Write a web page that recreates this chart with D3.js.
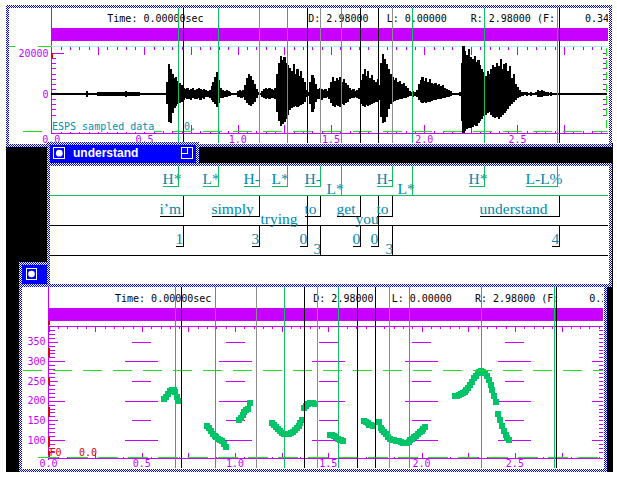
<!DOCTYPE html>
<html><head><meta charset="utf-8">
<script src="https://cdn.jsdelivr.net/npm/d3@7"></script>
<style>
html,body{margin:0;padding:0;background:#fff;overflow:hidden;}
svg{display:block;}
</style>
</head><body>
<svg id="c" width="617" height="477"></svg>
<script>
(function(){
// ---------------- DATA ----------------
const duration = 2.98;                 // seconds
const waveStart = 0.18, waveStep = 0.01; // sampled envelope (thousands of counts)
const waveMax = [
0.25,1.25,0.25,0.25,0.25,0.25,0.25,1,1,0.75,1,1,0.75,1,1,0.75,1,1,1,0.75,1,1,1.5,1,1,0.75,1,0.75,1,0.75,
0.25,0.25,0.25,0.25,0.25,0.25,0.25,0.25,0.25,0.25,0.25,0.25,
0.25,0.25,6,14.5,12,10,8,8.5,6.5,5.5,
4.5,3,2.5,3,2,2.5,3,2,2.5,3,
2.5,2,2.5,2,1.5,2,4,6,8.5,10.5,
7,3,2,1.5,2,1.5,1,0.5,0.5,0.5,
1.5,2,1.5,2,4.5,8,10,9,7,5,
2.5,1,0.5,1.5,2.5,3,2.5,3,2.5,2,
3,10,15,18.5,16.5,18,15,14,12.5,11,
14.5,10,12,9,11,8,6,2,1,6,
9.5,8,5,2.5,3,2.5,2,2.5,1.5,3,
6,8.5,6.5,8,7,8.5,6,7.5,5.5,4.5,
3,2,2.5,1.5,2,3,7,10,12,9,
11,8,9.5,7,6,7.5,4.5,15,19.5,17,
14.5,12,10,8.5,7,8,6,6.5,5,5.5,
4,3,1.5,1,1.5,1,2,5,7,8.5,
6.5,8,6,7.5,5.5,5,5.5,4.5,5,4,
4.5,3,2.5,2,1.5,0.5,0.5,0.5,0.5,1,
15,23.5,21,19,22,18,17,18.5,15.5,16.5,
14,12,10.5,9,11,10,12,14,13,15,
13.5,17,12,14.5,15,11,13.5,8,10,5,
3.5,2,1,1,1,1,0.5,1,0.5,0.5,
1,2,1.5,2,1.5,1,1,0.5,1,0.5,
0.5,0.5,0.25];
const waveMin = [
-0.25,-1.25,-0.25,-0.25,-0.25,-0.25,-0.25,-1,-1,-0.75,-1,-1,-0.75,-1,-1,-0.75,-1,-1,-1,-0.75,-1,-1,-1.5,-1,-1,-0.75,-1,-0.75,-1,-0.75,
-0.25,-0.25,-0.25,-0.25,-0.25,-0.25,-0.25,-0.25,-0.25,-0.25,-0.25,-0.25,
-0.25,-0.25,-5,-13.5,-14,-9.5,-7,-6,-5,-4.5,
-4,-3,-2,-2.5,-2.5,-3,-2,-2.5,-2.5,-2,
-3,-2,-2.5,-1.5,-1.5,-2,-3,-4,-5,-6.5,
-4.5,-2,-2,-1.5,-1.5,-1,-1,-0.5,-0.5,-0.5,
-1.5,-1.5,-2,-1.5,-3,-4.5,-5.5,-6,-5,-4,
-2,-0.5,-0.5,-1.5,-2,-2.5,-2,-2.5,-2,-2,
-2.5,-9,-13,-15.5,-14.5,-13.5,-12,-10,-8,-7,
-6.5,-6,-6.5,-6,-5.5,-5,-4,-1.5,-1,-5,
-9,-7.5,-4,-2.5,-2.5,-3,-2,-2,-1.5,-2.5,
-4.5,-6,-6.5,-5.5,-6,-6.5,-5,-5.5,-4.5,-4,
-2.5,-2,-2,-1.5,-2,-2.5,-5,-6,-6.5,-5.5,
-6,-5.5,-5,-4.5,-4,-4,-3,-11,-14,-13.5,
-11,-7.5,-5,-4,-3.5,-3,-3,-2.5,-2.5,-2,
-2,-1.5,-1,-1,-1.5,-1,-1.5,-3,-4,-4.5,
-4,-4.5,-4,-4,-3.5,-3,-3,-2.5,-2.5,-2.5,
-2,-2,-1.5,-1.5,-1,-0.5,-0.5,-0.5,-0.5,-1,
-13,-19,-18,-17,-16.5,-16.5,-16,-15,-15.5,-14,
-13,-12,-10.5,-10,-9.5,-9,-10,-11,-11.5,-11,
-12,-11,-10,-9.5,-8.5,-7.5,-6,-5,-4,-3,
-2,-1.5,-1,-1,-0.5,-1,-0.5,-1,-0.5,-0.5,
-0.5,-1.5,-1.5,-1.5,-1,-1,-1,-0.5,-1,-0.5,
-0.5,-0.5,-0.25];

const toneLabels  = ["H*","L*","H-","L*","H-","L*","H-","L*","H*","L-L%"];
const toneTimes   = [0.677,0.894,1.114,1.264,1.441,1.554,1.825,1.934,2.320,2.712];
const toneLowered = [0,0,0,0,0,1,0,1,0,0];
const wordLabels  = ["i\u2019m","simply","trying","to","get","you","to","understand"];
const wordTimes   = [0.708,1.114,1.370,1.441,1.656,1.752,1.825,2.723];
const wordLowered = [0,0,1,0,0,1,0,0];
const breakLabels = ["1","3","0","3","0","0","3","4"];
const breakTimes  = [0.708,1.114,1.370,1.441,1.656,1.752,1.825,2.723];
const breakLowered= [0,0,0,1,0,0,1,0];

const f0Step = 0.01;
const f0Starts = [0.62,0.85,1.02,1.20,1.37,1.51,1.69,1.77,1.78,2.18];
const f0Runs = [
 [205,210,218,225,227,227,222,210,199],
 [136,130,123,115,110,108,103,100,97,90,82],
 [150,156,163,170,176,179,194],
 [142,138,133,127,122,118,116,115,115,116,118,121,125,130,136,143,150],
 [182,187,192,194,195,194,191],
 [113,112,110,107,103,100,99,98],
 [149,146,143,139,137,135],
 [147],
 [130,125,120,115,108,103,100,99,98,97,97,96,93,92,93,96,99,103,107,111,116,120,124,128,132],
 [211,212,214,216,219,223,228,233,240,248,257,264,270,274,275,274,270,262,252,240,226,212,197,165,150,135,122,112,104,100]
];
const f0Cursor = 278, f0Floor = 57;
const timeLabels = [0,0.5,1.0,1.5,2.0,2.5];
const ampLabels = [0,20];            // thousands -> "0", "20000"
const f0Labels = [100,150,200,250,300,350];
const f0GridTimes = [0,0.5,1.0,1.5,2.0,2.5,3.0];
const f0GridHz = [100,150,200,250,300,350];
const ampRedMarks = [[17.5,20]];
const f0RedMarks = [[311,333],[240,257],[158,184],[82,107],[62,72]];

// ---------------- STYLE ----------------
const MAG="#c800ff", CYAN="#a8f0f0", TEAL="#0090b0", TIER="#0088aa", GREEN="#10c060",
      DASH="#20e020", GRAY="#8c8c8c", F0C="#00c468", RED="#e00000", BLUE="#0000ff";
const MONO="'DejaVu Sans Mono', monospace";
const LABEL_CHAR_W = 8; // label field width per character (xwaves layout)

const svg = d3.select("#c").attr("shape-rendering","crispEdges");
const defs = svg.append("defs");
const pat = defs.append("pattern").attr("id","chk").attr("width",2).attr("height",2).attr("patternUnits","userSpaceOnUse");
pat.append("rect").attr("width",2).attr("height",2).attr("fill","#fff");
pat.append("rect").attr("width",1).attr("height",1).attr("fill",BLUE);
pat.append("rect").attr("x",1).attr("y",1).attr("width",1).attr("height",1).attr("fill",BLUE);
function clip(id,x,y,w,h){defs.append("clipPath").attr("id",id).append("rect").attr("x",x).attr("y",y).attr("width",w).attr("height",h);}
clip("cTop",9,8,599,135); clip("cTopPlot",51,46,557,88);
clip("cMid",50,166,558,119); clip("cLow",23,287,580,181); clip("cLowPlot",48,327,555,132);

const xTop = d3.scaleLinear().domain([0,duration]).range([51.25,607.0]);
const xLow = d3.scaleLinear().domain([0,duration]).range([48.6,604.4]);
const yAmp = d3.scaleLinear().domain([0,20]).range([94,53]);
const yF0  = d3.scaleLinear().domain([100,350]).range([440,341.7]);

function frame(x0,y0,x1,y1,fill){
  svg.append("rect").attr("x",x0).attr("y",y0).attr("width",x1-x0).attr("height",y1-y0).attr("fill","url(#chk)");
  svg.append("rect").attr("x",x0+3).attr("y",y0+3).attr("width",x1-x0-6).attr("height",y1-y0-6).attr("fill",fill);
}
function hline(g,x1,x2,y,c,w,dash){const l=g.append("line").attr("x1",x1).attr("x2",x2).attr("y1",y).attr("y2",y).attr("stroke",c).attr("stroke-width",w||1); if(dash) l.attr("stroke-dasharray",dash); return l;}
function vline(g,x,y1,y2,c,w,dash){const l=g.append("line").attr("x1",x).attr("x2",x).attr("y1",y1).attr("y2",y2).attr("stroke",c).attr("stroke-width",w||1); if(dash) l.attr("stroke-dasharray",dash); return l;}
function txt(g,x,y,s,c,size,anchor,fam){return g.append("text").attr("x",x).attr("y",y).text(s).attr("fill",c)
  .attr("font-family",fam||MONO).attr("font-size",size||10).attr("text-anchor",anchor||"start");}
function axisTicks(g,axis,tr,color){
  const a=g.append("g").attr("transform",tr).call(axis);
  a.select(".domain").remove(); a.selectAll("line").attr("stroke",color); a.selectAll("text").remove();
  return a;
}
const minorT = d3.range(0,60).map(i=>+(i*0.05).toFixed(2));
const quarterT = d3.range(0,12).map(i=>i*0.25);

const bounds=[];
toneTimes.forEach(t=>bounds.push({t,c:wordTimes.includes(t)?GRAY:GREEN}));
wordTimes.forEach(t=>{if(!toneTimes.includes(t)) bounds.push({t,c:"#000"});});

// ---------------- SCREEN ----------------
svg.append("rect").attr("width",617).attr("height",477).attr("fill","#fff");
svg.append("rect").attr("x",6).attr("y",143).attr("width",607).attr("height",329).attr("fill","#000");

// ===== top window (waveform) =====
frame(6,5,612,147,"#fff");
const topG = svg.append("g").attr("clip-path","url(#cTop)");
txt(topG,107.3,21.5,"Time:  0.00000sec","#000");
txt(topG,308.3,21.5,"D: "+duration.toFixed(5),"#000");
txt(topG,386.7,21.5,"L:  0.00000","#000");
txt(topG,470.7,21.5,"R:  "+duration.toFixed(5)+" (F:","#000");
txt(topG,585,21.5,"0.34","#000");
topG.append("rect").attr("x",51).attr("y",28).attr("width",557).attr("height",13).attr("fill",MAG);
vline(topG,51.5,8,134,MAG);
hline(topG,9,51,46.5,DASH,1,"6,23,13");
hline(topG,51,608,46.5,CYAN);
axisTicks(topG,d3.axisBottom(xTop).tickValues(minorT).tickSize(3).tickFormat(""),"translate(0,46.5)",MAG);
axisTicks(topG,d3.axisBottom(xTop).tickValues(quarterT).tickSize(8).tickFormat(""),"translate(0,46.5)",MAG);
hline(topG,51,608,133.5,MAG);
axisTicks(topG,d3.axisTop(xTop).tickValues(minorT).tickSize(3).tickFormat(""),"translate(0,133.5)",MAG);
axisTicks(topG,d3.axisTop(xTop).tickValues(quarterT).tickSize(9).tickFormat(""),"translate(0,133.5)",MAG);
axisTicks(topG,d3.axisRight(yAmp).tickValues(d3.range(-10,20.1,2.5)).tickSize(4).tickFormat(""),"translate(51.5,0)",MAG);
axisTicks(topG,d3.axisRight(yAmp).tickValues(ampLabels).tickSize(12).tickFormat(""),"translate(51.5,0)",MAG);
axisTicks(topG,d3.axisLeft(yAmp).tickValues(d3.range(-10,20.1,2.5)).tickSize(4).tickFormat(""),"translate(607,0)",MAG);
vline(topG,606.5,48,131,DASH,1,"8,4");
ampRedMarks.forEach(m=>topG.append("rect").attr("x",51).attr("y",yAmp(m[1])).attr("width",2).attr("height",yAmp(m[0])-yAmp(m[1])).attr("fill",RED));
ampLabels.forEach(v=>txt(topG,48.5,yAmp(v)+3.5,v===0?"0":String(v*1000),MAG,10,"end"));
timeLabels.forEach(t=>txt(topG,xTop(t),142.5,t.toFixed(1),MAG,10,"middle"));
hline(topG,23,607,131.5,DASH,1,"19,11");
const esps = txt(topG,52,130,"ESPS sampled data",TEAL);
const eb = esps.node().getBBox();
topG.insert("rect",()=>esps.node()).attr("x",eb.x).attr("y",eb.y).attr("width",eb.width).attr("height",eb.height).attr("fill","#fff");
txt(topG,184,130,"0.",TEAL);
const wg = topG.append("g").attr("clip-path","url(#cTopPlot)");
hline(wg,51,607,94,"#000",2);
wg.selectAll("rect.w").data(waveMax).join("rect").attr("class","w")
  .attr("x",(d,i)=>xTop(waveStart+i*waveStep)-1).attr("width",2.2)
  .attr("y",d=>yAmp(d)).attr("height",(d,i)=>Math.max(0.5,yAmp(waveMin[i])-yAmp(d))).attr("fill","#000");
bounds.forEach(b=>vline(topG,Math.round(xTop(b.t))+0.5,8,143,b.c));

// ===== lower window (F0) =====
frame(19,262,50,287,BLUE);
svg.append("rect").attr("x",26.5).attr("y",268.5).attr("width",10).attr("height",11).attr("fill","none").attr("stroke","#fff");
svg.append("circle").attr("cx",31.5).attr("cy",274).attr("r",3.3).attr("fill","#fff").attr("shape-rendering","auto");
frame(19,284,607,472,"#fff");
const lowG = svg.append("g").attr("clip-path","url(#cLow)");
txt(lowG,115,301.5,"Time:  0.00000sec","#000");
txt(lowG,313.3,301.5,"D: "+duration.toFixed(5),"#000");
txt(lowG,391.7,301.5,"L:  0.00000","#000");
txt(lowG,475,301.5,"R:  "+duration.toFixed(5)+" (F:","#000");
txt(lowG,589.3,301.5,"0.34","#000");
lowG.append("rect").attr("x",48).attr("y",308).attr("width",555).attr("height",13).attr("fill",MAG);
vline(lowG,48.5,287,460,MAG);
hline(lowG,48,603,326.5,MAG);
axisTicks(lowG,d3.axisBottom(xLow).tickValues(minorT).tickSize(2.5).tickFormat(""),"translate(0,326.5)",MAG);
axisTicks(lowG,d3.axisBottom(xLow).tickValues(quarterT).tickSize(5).tickFormat(""),"translate(0,326.5)",MAG);
hline(lowG,48,603,458.5,MAG);
axisTicks(lowG,d3.axisTop(xLow).tickValues(minorT).tickSize(2).tickFormat(""),"translate(0,458.5)",MAG);
axisTicks(lowG,d3.axisTop(xLow).tickValues(quarterT).tickSize(6).tickFormat(""),"translate(0,458.5)",MAG);
axisTicks(lowG,d3.axisRight(yF0).tickValues(d3.range(70,381,10)).tickSize(6).tickFormat(""),"translate(48.5,0)",MAG);
axisTicks(lowG,d3.axisLeft(yF0).tickValues(d3.range(70,381,10)).tickSize(3.5).tickFormat(""),"translate(602.5,0)",MAG);
const lp = lowG.append("g").attr("clip-path","url(#cLowPlot)");
f0GridTimes.forEach(t=>f0GridHz.forEach(f=>{
  const half = (f%100===0)?16.5:9.5;
  hline(lp,xLow(t)-half,xLow(t)+half,Math.round(yF0(f))+0.5,MAG);
}));
lowG.append("rect").attr("x",48).attr("y",321).attr("width",2).attr("height",4).attr("fill",RED);
f0RedMarks.forEach(m=>lowG.append("rect").attr("x",47.5).attr("y",yF0(m[1])).attr("width",2).attr("height",yF0(m[0])-yF0(m[1])).attr("fill",RED));
f0Labels.forEach(f=>txt(lowG,45.5,yF0(f)+3.5,String(f),MAG,10,"end"));
timeLabels.forEach(t=>txt(lowG,xLow(t),466.5,t.toFixed(1),MAG,10,"middle"));
hline(lowG,23,603,Math.round(yF0(f0Cursor))+0.5,DASH,1,"19,11");
hline(lowG,38,603,Math.round(yF0(f0Floor))+0.5,DASH,1,"20,10");
txt(lowG,49.5,456,"F0",RED);
txt(lowG,79,456,"0.0",RED);
const pts=[];
f0Starts.forEach((s,k)=>f0Runs[k].forEach((v,j)=>pts.push({t:s+j*f0Step,f:v})));
lp.selectAll("rect.p").data(pts).join("rect").attr("class","p")
  .attr("x",d=>xLow(d.t)-3).attr("y",d=>yF0(d.f)-3).attr("width",6).attr("height",6).attr("fill",F0C);
bounds.forEach(b=>vline(lowG,Math.round(xLow(b.t))+0.5,287,468,b.c));

// ===== middle window (labels) =====
frame(47,142,199,166,BLUE);
svg.append("rect").attr("x",53.5).attr("y",147.5).attr("width",11).attr("height",11).attr("fill","none").attr("stroke","#fff");
svg.append("circle").attr("cx",59.3).attr("cy",153.2).attr("r",3.4).attr("fill","#fff").attr("shape-rendering","auto");
txt(svg,73,157,"understand","#fff",12,"start","'Liberation Sans', Arial, sans-serif").attr("font-weight","bold");
svg.append("rect").attr("x",181.5).attr("y",147.5).attr("width",11).attr("height",11).attr("fill","none").attr("stroke","#fff");
svg.append("path").attr("d","M187.5,148V153.5H182").attr("fill","none").attr("stroke","#fff");
frame(47,163,612,287,"#fff");
const midG = svg.append("g").attr("clip-path","url(#cMid)");
function tier(labels,times,lowered,rt,lc){
  hline(midG,50,608,rt+29.5,lc);
  labels.forEach((lab,i)=>{
    const bx = Math.round(xTop(times[i]))+0.5;
    const lowr = lowered[i];
    const x0 = bx - LABEL_CHAR_W*lab.length;
    txt(midG,x0+(lowr?1:0),rt+(lowr?27.5:17.5),lab,TIER,15.5,"start","'Liberation Serif','Times New Roman',serif");
    if(!lowr){
      vline(midG,bx,rt,rt+21,lc);
      hline(midG,x0,bx,rt+20.5,lc);
    } else {
      vline(midG,bx,rt,rt+29.5,lc);
    }
  });
}
tier(toneLabels,toneTimes,toneLowered,166,GREEN);
tier(wordLabels,wordTimes,wordLowered,196,"#000");
tier(breakLabels,breakTimes,breakLowered,226,"#000");
})();
</script>
</body></html>
